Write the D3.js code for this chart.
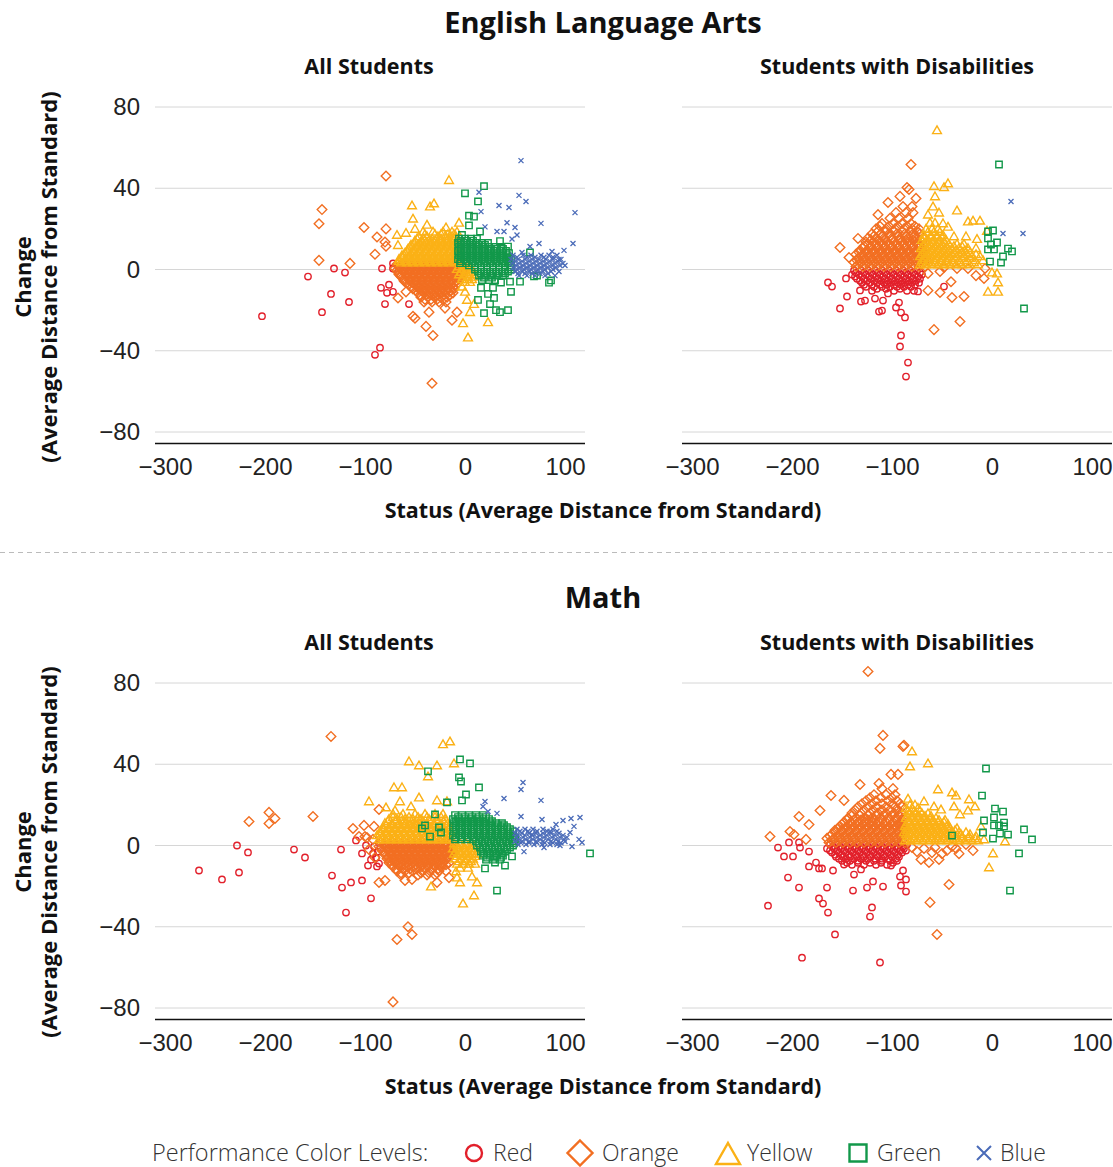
<!DOCTYPE html>
<html>
<head>
<meta charset="utf-8">
<script src="https://cdn.jsdelivr.net/npm/d3@7"></script>
<style>
  body { margin: 0; background: #fff; }
  svg { font-family: "Open Sans", Lato, sans-serif; }
</style>
</head>
<body>
<script>
// Performance levels, in drawing order
var levels = ["Red", "Orange", "Yellow", "Green", "Blue"];
var levelColors = ["#e2202b", "#f26f22", "#fbb116", "#12984a", "#4a6bb8"];

var xTicks = [-300, -200, -100, 0, 100];
var yTicks = [-80, -40, 0, 40, 80];

// ---- English Language Arts, All Students ----
// single points are [status, change]; dense clumps are rows: [change, status, status, ...]
var elaAllRed = [[-203,-23],[-157,-3.5],[-131,0.5],[-120,-1.5],[-134,-12],[-116,-16],[-143,-21],[-83,0.5],[-72,3],[-72,0.5],
  [-84,-9],[-76,-7.5],[-78,-11.5],[-72,-11],[-80,-17],[-56,-17],[-85,-38.5],[-90,-42]];
var elaAllOrange = [[-79,46],[-143,29.5],[-146,22.5],[-146,4.5],[-115,3],[-101,20.7],[-79,20],[-88,16],[-80,13.5],[-79,11.5],
  [-90,7.5],[-67,-14],[-59,-11],[-52,-23],[-50,-24],[-39,-28],[-32,-32.5],[-36,-21],[-33,-56],[-13,-25],[-8,-21],[-20,-19],
  [-45,-8.5],[-29,-13],[-66,-2.5],[-60,-6]];
var elaAllOrangeRows = [
  [2.6,-68,-62,-56,-50,-44,-38,-32,-26,-20,-14,-8,-3],
  [1.6,-66,-60,-54,-48,-42,-36,-30,-24,-18,-12,-6],
  [0.6,-70,-65,-59,-53,-47,-41,-35,-29,-23,-17,-11,-5],
  [-0.4,-68,-62,-56,-50,-44,-38,-32,-26,-20,-14,-8,-3],
  [-1.4,-67,-61,-55,-49,-43,-37,-31,-25,-19,-13,-7,-2],
  [-2.4,-64,-58,-52,-46,-40,-34,-28,-22,-16,-10,-4],
  [-3.5,-64,-58,-52,-46,-40,-34,-28,-22,-16,-10,-5],
  [-4.5,-61,-55,-49,-43,-37,-31,-25,-19,-13,-7],
  [-5.5,-61,-55,-49,-43,-37,-31,-25,-19,-13,-8],
  [-6.5,-58,-52,-46,-40,-34,-28,-22,-16,-11],
  [-7.5,-56,-50,-44,-38,-32,-26,-20,-14,-9],
  [-8.6,-53,-47,-41,-35,-29,-23,-17,-12],
  [-9.6,-52,-46,-40,-34,-28,-22,-16,-11],
  [-10.5,-49,-43,-37,-31,-25,-19,-14],
  [-11.5,-47,-41,-35,-29,-23,-17,-12],
  [-12.5,-45,-39,-33,-27,-21,-15],
  [-13.6,-44,-37,-30,-24,-18],
  [-14.8,-40,-34,-28,-22],
  [-16,-41,-33,-26,-19]];
var elaAllYellow = [[-16,44],[-53,31.5],[-35,31],[-31,32.5],[-52,25],[-38,22],[-50,20],[-68,17],[-59,18],[-6,23],[-19,20.7],
  [-63,7],[-67,12],[-3,-8.5],[2,-15],[5,-21],[-2,-26.5],[3,-33.5],[23,-26],[9,-17],[0,-11]];
var elaAllYellowRows = [
  [3.4,-64,-58,-52,-46,-40,-34,-28,-22,-16,-10,-4],
  [4.2,-66,-60,-54,-48,-42,-36,-30,-24,-18,-12,-6],
  [5.2,-66,-60,-54,-48,-42,-36,-30,-24,-18,-12,-7],
  [6.2,-63,-57,-51,-45,-39,-33,-27,-21,-15,-9,-4],
  [7.2,-61,-55,-49,-43,-37,-31,-25,-19,-13,-8],
  [8.2,-60,-54,-48,-42,-36,-30,-24,-18,-12,-6],
  [9.2,-58,-52,-46,-40,-34,-28,-22,-16,-10,-6],
  [10.2,-57,-51,-45,-39,-33,-27,-21,-15,-9,-5],
  [11.2,-55,-49,-43,-37,-31,-25,-19,-13,-8],
  [12.2,-54,-47,-41,-35,-29,-23,-17,-11,-6],
  [13.2,-51,-45,-39,-33,-27,-21,-15,-10],
  [14.2,-50,-43,-36,-30,-24,-18,-12,-7],
  [15.2,-48,-41,-33,-24,-17,-11],
  [16.3,-46,-38,-27,-20,-14,-9],
  [17.4,-40,-30,-24,-17,-11],
  [18.6,-42,-32,-22,-13,-8],
  [1.5,-6,-1,4],[0.2,-8,-3,2,7],[-1.2,-4,1,6],[-2.4,-6,-1,4,9],[-3.6,-2,3,8],[-4.8,-3,2,7],[-6.2,0,5]];
var elaAllGreen = [[19,41],[0,37.5],[13,33.5],[4,26.5],[9,26],[4,21.7],[15,18.7],[-3,17],[35,14],[43,11.3],[65,8.4],[69,-3.4],
  [72,-3],[84,-6.5],[86,-5.4],[16,-9],[28,-9],[46,-11],[13,-15],[23,-12],[29,-14],[25,-17],[31,-20],[35,-21],[43,-20],
  [19,-21.5],[36,-6.4],[55,-6],[45,-6]];
var elaAllGreenRows = [
  [15.2,-6,0,6,12],
  [14.1,-4,2,8],
  [13.1,-7,-1,5,11,17,23],
  [12.1,-4,2,8,14,20],
  [11.1,-6,0,6,12,18,24,30,36],
  [10.1,-4,2,8,14,20,26,32,38],
  [9.1,-7,-1,5,11,17,23,29,35,41],
  [8.1,-4,2,8,14,20,26,32,38,44],
  [7.1,-6,0,6,12,18,24,30,36,42],
  [6.1,-4,2,8,14,20,26,32,38,44],
  [5.1,-7,-1,5,11,17,23,29,35,41,46],
  [4.1,-4,2,8,14,20,26,32,38,44],
  [3.1,-5,1,7,13,19,25,31,37,43],
  [2,4,10,16,22,28,34,40,46],
  [1,10,16,22,28,34,40,45],
  [0,10,16,22,28,34,40,46],
  [-1,13,19,25,31,37,43],
  [-2,16,22,28,34,40],
  [-3,14,20,26,32,38],
  [-4,19,27],
  [-5.2,17,24,30]];
var elaAllBlue = [[56,53.6],[110,28],[14,38],[54,36.5],[61,33.5],[34,31.5],[44,30.5],[16,28.5],[42,23],[76,22.7],[20,21],
  [32,18.7],[39,18.7],[50,20.7],[52,17],[47,15],[65,11.3],[74,12.8],[87,8.9],[99,9.4],[108,12.8],[57,8.4],[94,4.9],[100,2]];
var elaAllBlueRows = [
  [7,48,58,66,76,84,92],
  [6,52,62,70,79,88],
  [5,46,53,60,67,74,81,88,96],
  [4,50,57,64,71,78,85,93],
  [3,47,54,61,68,75,82,90,98],
  [2,51,58,65,72,79,87,95],
  [1,48,55,62,69,76,83,91],
  [0,52,59,66,73,80,88],
  [-1,50,57,64,71,78,86,94],
  [-2,53,60,67,75,83],
  [-3,54,62,70,80,90]];

// ---- English Language Arts, Students with Disabilities ----
var elaSwdRed = [[-164,-6.4],[-160,-8.4],[-146,-4.4],[-132,-10.3],[-145,-13.3],[-131,-15.8],[-127,-15.3],[-152,-19.2],
  [-117,-14.3],[-109,-15.3],[-113,-20.7],[-110,-20.2],[-96,-18.7],[-91,-21.2],[-87,-23.6],[-91,-32.5],[-92,-37.9],
  [-84,-45.8],[-86,-52.7],[-104,-11.8],[-93,-16.3],[-48,-8.4],[-74,-10.8]];
var elaSwdRedRows = [
  [-0.5,-138,-131,-124,-117,-110,-103,-96,-89,-82,-75],
  [-1.5,-136,-128,-121,-114,-107,-100,-93,-86,-79,-72],
  [-2.5,-140,-133,-126,-119,-112,-105,-98,-91,-84,-77,-70],
  [-3.5,-137,-130,-123,-116,-109,-102,-95,-88,-81,-74],
  [-4.5,-135,-128,-121,-114,-107,-100,-93,-86,-79,-72],
  [-5.5,-132,-125,-118,-111,-104,-97,-90,-83,-76],
  [-6.5,-130,-122,-115,-108,-101,-94,-87,-80,-73],
  [-7.5,-128,-120,-112,-105,-98,-91,-84,-77],
  [-8.5,-126,-118,-110,-102,-95,-88,-81],
  [-9.5,-115,-106,-92],
  [-10.5,-120,-98,-85,-78]];
var elaSwdOrange = [[-81,51.7],[-85,40.4],[-83,39.4],[-104,33],[-92,36],[-76,35],[-114,27],[-152,10.8],[-143,5.9],[-134,15.3],
  [-64,-2],[-52,-1],[-41,-6],[-52,-11.3],[-40,-13.8],[-28,-13.3],[-32,-25.6],[-58,-29.6],[-16,-3],[-7,0.5],[-8,-4.4],
  [-64,-10.3],[-35,0.5],[-24,0.5],[-48,1]];
var elaSwdOrangeRows = [
  [1.5,-136,-129,-122,-115,-108,-101,-94,-87,-80,-73,-67],
  [2.5,-134,-127,-120,-113,-106,-99,-92,-85,-78,-71],
  [3.5,-138,-131,-124,-117,-110,-103,-96,-89,-82,-75,-68],
  [4.5,-135,-128,-121,-114,-107,-100,-93,-86,-79,-72],
  [5.5,-134,-127,-120,-113,-106,-99,-92,-85,-78,-71,-66],
  [6.5,-131,-124,-117,-110,-103,-96,-89,-82,-75,-69],
  [7.5,-136,-129,-122,-115,-108,-101,-94,-87,-80,-73,-67],
  [8.5,-133,-126,-119,-112,-105,-98,-91,-84,-77,-70],
  [9.5,-132,-125,-118,-111,-104,-97,-90,-83,-76,-69],
  [10.5,-129,-122,-115,-108,-101,-94,-87,-80,-73],
  [11.5,-128,-121,-114,-107,-100,-93,-86,-79,-72],
  [12.5,-124,-117,-110,-103,-96,-89,-82,-75],
  [13.5,-126,-119,-112,-105,-98,-91,-84,-77,-70],
  [14.5,-121,-114,-107,-100,-93,-86,-79,-72],
  [15.5,-124,-116,-108,-100,-92,-84,-76,-69],
  [16.5,-118,-110,-102,-94,-86,-78],
  [17.6,-120,-111,-103,-95,-87,-79,-72],
  [18.8,-114,-106,-98,-90,-82,-75],
  [20,-116,-106,-97,-88,-80,-73],
  [21.3,-112,-103,-94,-85,-77],
  [22.6,-110,-99,-90,-81],
  [25.2,-102,-93,-84],
  [28,-96,-86,-79],
  [31,-89,-80]];
var elaSwdYellow = [[-55,68.5],[-58,41],[-48,40.5],[-44,42.4],[-57,36],[-35,29],[-24,23.6],[-19,24],[-12,24],[-5,19],
  [-49,22.7],[-44,21],[-38,16.3],[-26,16.3],[-15,15],[0,-1.5],[5,-2],[6,-6.4],[-4,-11],[6,-11],[-59,31],[-53,28],[-64,27]];
var elaSwdYellowRows = [
  [2.5,-72,-66,-60,-54,-48,-42,-36,-30,-22,-14],
  [3.5,-69,-63,-57,-51,-45,-39,-32,-26,-18],
  [4.5,-70,-64,-58,-52,-46,-40,-33,-25,-17,-9],
  [5.5,-68,-62,-56,-50,-44,-37,-30,-22],
  [6.5,-72,-66,-60,-54,-48,-42,-35,-28,-20,-12],
  [7.5,-70,-64,-58,-52,-46,-40,-32,-25,-16],
  [8.5,-69,-63,-57,-51,-45,-38,-30,-22],
  [9.5,-67,-61,-55,-49,-43,-36,-27],
  [10.5,-71,-65,-59,-53,-47,-40,-33,-24,-16],
  [11.5,-69,-63,-57,-51,-45,-38,-30],
  [12.5,-68,-62,-56,-50,-43,-35,-28],
  [13.5,-66,-60,-54,-48],
  [14.5,-70,-64,-58,-52,-46],
  [15.8,-67,-61,-55,-50],
  [17,-68,-61,-55,-49],
  [18.5,-64,-58,-52],
  [20,-66,-60,-54],
  [23,-62,-57]];
var elaSwdGreen = [[7,51.7],[32,-19.2],[-4,18.7],[1,19.2],[-4,15.3],[-1,12.3],[5,13.3],[-4,9.9],[2,9.9],[16,10.3],[20,8.9],
  [11,6.4],[-2,3.9],[9,3.4]];
var elaSwdBlue = [[19,33.5],[11,17.7],[31,17.7]];

// ---- Math, All Students ----
var mathAllRed = [[-266,-12.3],[-243,-16.7],[-228,0],[-226,-13.3],[-217,-3.4],[-171,-2],[-160,-5.9],[-124,-2],[-133,-14.8],
  [-123,-20.7],[-114,-18.2],[-119,-33],[-103,-17.2],[-103,-3.9],[-109,2.5],[-94,-26],[-97,-9.9],[-99,0],[-88,-10.3],
  [-86,-8.9],[-91,-0.5],[-92,-4],[-89,-6],[-94,-7],[-87,-3]];
var mathAllOrange = [[-134,53.7],[-216,11.8],[-196,16.3],[-190,13.3],[-196,10.8],[-152,14.3],[-112,8.4],[-101,9.9],[-98,3.9],
  [-106,4.4],[-57,-40],[-53,-43.8],[-68,-46.3],[-72,-77],[-86,-18.2],[-80,-17.2],[-60,-17.2],[-53,-16.7],[-28,-18.2],
  [-16,-15.8],[-86,17.7],[-91,9.4],[-100,4.4],[-92,3],[-96,-2],[-90,-6]];
var mathAllOrangeRows = [
  [1.5,-84,-78,-72,-66,-60,-54,-48,-42,-36,-30,-24,-18,-13],
  [0.5,-81,-75,-69,-63,-57,-51,-45,-39,-33,-27,-21,-16],
  [-0.5,-86,-80,-74,-68,-62,-56,-50,-44,-38,-32,-26,-20,-14],
  [-1.5,-84,-77,-71,-65,-59,-53,-47,-41,-35,-29,-23,-17,-12],
  [-2.5,-83,-77,-71,-65,-59,-53,-47,-41,-35,-29,-23,-17,-12],
  [-3.5,-80,-74,-68,-62,-56,-50,-44,-38,-32,-26,-20,-15],
  [-4.5,-80,-74,-68,-62,-56,-50,-44,-38,-32,-26,-20,-14],
  [-5.5,-77,-71,-65,-59,-53,-47,-41,-35,-29,-23,-17],
  [-6.5,-78,-72,-66,-60,-54,-48,-42,-36,-30,-24,-18],
  [-7.5,-75,-69,-63,-57,-51,-45,-39,-33,-27,-21],
  [-8.5,-76,-70,-64,-58,-52,-46,-40,-34,-28,-22,-16],
  [-9.5,-73,-67,-61,-55,-49,-43,-37,-31,-25,-19],
  [-10.5,-72,-65,-58,-51,-44,-37,-30,-23],
  [-11.5,-69,-62,-55,-48,-40,-33,-27],
  [-12.5,-68,-60,-52,-43,-35,-26,-19],
  [-13.5,-64,-56,-44,-36,-28],
  [-14.5,-64,-47,-38,-30]];
var mathAllYellow = [[-22,49.8],[-15,51.2],[-56,41.4],[-46,39.4],[-28,39.4],[-11,40.4],[-37,34],[-71,28.6],[-63,28.6],
  [-96,21.7],[-65,21.7],[-46,23.6],[-28,22.2],[-18,21.7],[-79,18.7],[-70,17.2],[-54,19.2],[7,-15.3],[12,-18.2],[-5,-18.2],
  [-8,-15.8],[9,-24.6],[-2,-28.6],[-34,-20.2],[-9,-12.8]];
var mathAllYellowRows = [
  [3,-86,-80,-74,-68,-62,-56,-50,-44,-38,-32,-26,-20,-15],
  [4,-83,-77,-71,-65,-59,-53,-47,-41,-35,-29,-23,-17],
  [5,-88,-82,-76,-70,-64,-58,-52,-46,-40,-34,-28,-22,-16],
  [6,-85,-79,-73,-67,-61,-55,-49,-43,-37,-31,-25,-19,-14],
  [7,-85,-79,-73,-67,-61,-55,-49,-43,-37,-31,-25,-19,-14],
  [8,-82,-76,-70,-64,-58,-52,-46,-40,-34,-28,-22,-16],
  [9,-82,-76,-70,-64,-58,-52,-46,-40,-34,-28,-22,-16],
  [10,-79,-73,-67,-61,-55,-49,-43,-37,-31,-25,-19],
  [11,-80,-73,-66,-59,-52,-45,-38,-31,-24,-17],
  [12,-77,-70,-63,-56,-49,-42,-35,-28,-21],
  [13,-76,-68,-60,-52,-44,-36,-28,-20],
  [14,-72,-64,-56,-47,-38,-30,-24],
  [15.5,-72,-62,-50,-40,-30,-22],
  [1,-11,-5,1,7],[0,-8,-2,4,9],
  [-1.5,-12,-6,0,6,11],[-2.8,-9,-3,3,9],
  [-4,-11,-5,1,7,12],[-5.2,-8,-2,4,10],
  [-6.5,-10,-4,2,8],[-7.8,-6,0,6],
  [-9,-8,-2,4,10],
  [-11,-5,3]];
var mathAllGreen = [[-5,42.4],[5,40.4],[-37,36.5],[-6,33.5],[-4,31.5],[14,28.6],[1,25.1],[-3,22.2],[-18,21.2],[-30,15.3],
  [-40,9.9],[-43,8.4],[-26,8.9],[-24,6.4],[-35,4.4],[20,-11.3],[32,-22.2],[125,-3.9],[40,-9.9],[30,-8.4],[47,-5.4]];
var mathAllGreenRows = [
  [15,-10,-3,4,11,18],
  [14,-7,0,7,14,21],
  [13,-12,-6,0,6,12,18,24],
  [12,-9,-3,3,9,15,21,27],
  [11,-11,-5,1,7,13,19,25,31,37],
  [10,-9,-3,3,9,15,21,27,33,39],
  [9,-12,-6,0,6,12,18,24,30,36,42],
  [8,-9,-3,3,9,15,21,27,33,39,45],
  [7,-11,-5,1,7,13,19,25,31,37,43,48],
  [6,-9,-3,3,9,15,21,27,33,39,45],
  [5,-12,-6,0,6,12,18,24,30,36,42,48],
  [4,-9,-3,3,9,15,21,27,33,39,45,50],
  [3,-10,-4,2,8,14,20,26,32,38,44,50],
  [2,11,17,23,29,35,41,47],
  [1,14,20,26,32,38,44,49],
  [0,12,18,24,30,36,42,48],
  [-1,15,21,27,33,39,45],
  [-2,18,24,30,36,42],
  [-3,16,22,28,34,40],
  [-4,19,25,31,37],
  [-5,18,25,32,38],
  [-6,22,30,36],
  [-7,21,28,35]];
var mathAllBlue = [[58,31],[56,27.6],[76,22.2],[39,23.1],[20,21.7],[18,19.2],[23,16.7],[32,15.8],[56,14.3],[77,12.8],
  [91,10.3],[98,12.3],[106,13.3],[115,13.8],[109,9.4],[85,6.9],[105,6.4],[114,3],[117,1.5],[59,-3],[79,-1],[95,0],
  [107,-0.5],[67,5.4]];
var mathAllBlueRows = [
  [8,52,60,68,78,88],
  [7,55,63,72,82,92],
  [6,50,57,64,71,78,86,94],
  [5,53,60,67,75,82,90,98],
  [4,51,58,65,72,79,87,95,102],
  [3,54,61,68,75,83,91,99],
  [2,50,57,64,71,78,86,93,100],
  [1.3,56,64,72,80,88,96],
  [0.5,53,61,69,77,85,92]];

// ---- Math, Students with Disabilities ----
var mathSwdRed = [[-224,-29.6],[-214,-1],[-208,-5.4],[-203,1.5],[-199,-5.4],[-193,1.5],[-192,-1],[-183,-3],[-204,-15.8],
  [-193,-20.7],[-183,-10.3],[-176,-8.4],[-173,-11.3],[-170,-11.3],[-173,-26.1],[-169,-28.6],[-164,-33],[-165,-20.7],
  [-157,-43.8],[-190,-55.2],[-112,-57.6],[-120,-30.5],[-122,-35],[-139,-22.2],[-125,-20.7],[-119,-17.7],[-109,-20.2],
  [-91,-19.7],[-86,-22.7],[-92,-15.3],[-86,-16.7],[-101,-9.9],[-89,-12.3],[-159,-12.3],[-138,-14.3],[-131,-11.8],[-148,-9.4]];
var mathSwdRedRows = [
  [0.5,-162,-155,-148,-141,-134,-127,-120,-113,-106,-99,-92,-85],
  [-0.5,-159,-152,-145,-138,-131,-124,-117,-110,-103,-96,-89],
  [-1.5,-165,-158,-151,-144,-137,-130,-123,-116,-109,-102,-95,-88],
  [-2.5,-162,-155,-148,-141,-134,-127,-120,-113,-106,-99,-92,-86],
  [-3.5,-160,-153,-146,-139,-132,-125,-118,-111,-104,-97,-90],
  [-4.5,-157,-150,-143,-136,-129,-122,-115,-108,-101,-94],
  [-5.5,-156,-149,-142,-135,-128,-121,-114,-107,-100,-93],
  [-6.5,-153,-146,-138,-131,-124,-117,-110,-103,-96],
  [-7.5,-150,-142,-134,-126,-118,-110,-102,-95],
  [-8.5,-145,-134,-122,-111,-99],
  [-9.5,-140,-128,-116,-105]];
var mathSwdOrange = [[-124,85.7],[-109,54.2],[-112,47.8],[-89,48.8],[-88,49.3],[-62,-28],[-55,-43.8],[-43,-19.2],[-222,4.4],
  [-193,14.3],[-202,6.9],[-198,5.4],[-172,17.2],[-183,10.3],[-186,3],[-161,24.6],[-148,22.2],[-132,30],[-113,30.5],
  [-101,35],[-94,35],[-19,-2.5],[-53,-6.9],[-63,-8.4],[-71,-6.9],[-45,-2.5],[-36,-1.5],[-26,0.5],[-80,-1],[-75,-3],
  [-68,-1.5],[-60,-3.5],[-57,-1],[-50,-4],[-40,-0.5],[-33,-4]];
var mathSwdOrangeRows = [
  [1.5,-163,-156,-149,-142,-135,-128,-121,-114,-107,-100,-93,-87],
  [2.5,-160,-153,-146,-139,-132,-125,-118,-111,-104,-97,-90],
  [3.5,-165,-158,-151,-144,-137,-130,-123,-116,-109,-102,-95,-88],
  [4.5,-162,-155,-148,-141,-134,-127,-120,-113,-106,-99,-92],
  [5.5,-160,-153,-146,-139,-132,-125,-118,-111,-104,-97,-90],
  [6.5,-157,-150,-143,-136,-129,-122,-115,-108,-101,-94,-88],
  [7.5,-157,-150,-143,-136,-129,-122,-115,-108,-101,-94,-88],
  [8.5,-154,-147,-140,-133,-126,-119,-112,-105,-98,-91],
  [9.5,-152,-145,-138,-131,-124,-117,-110,-103,-96,-89],
  [10.5,-150,-143,-136,-129,-122,-115,-108,-101,-94,-88],
  [11.5,-148,-141,-134,-127,-120,-113,-106,-99,-92],
  [12.5,-145,-138,-131,-124,-117,-110,-103,-96,-90],
  [13.5,-144,-136,-128,-120,-112,-104,-96,-89],
  [14.8,-140,-132,-124,-116,-108,-100,-93],
  [16,-140,-131,-122,-114,-106,-98,-91],
  [17.5,-137,-128,-119,-110,-102,-94],
  [19,-134,-124,-115,-106,-97,-90],
  [20.5,-130,-120,-110,-100,-92],
  [22,-126,-116,-104,-95],
  [23.5,-122,-111,-100],
  [25,-118,-106,-97],
  [28,-110,-99]];
var mathSwdYellow = [[-80,46.3],[-82,38.9],[-64,40.4],[-54,27.6],[-40,26.1],[-36,24.6],[-23,22.7],[-17,19.2],[-24,17.2],
  [1,-3.9],[-3,-10.8],[13,2],[-8,3],[-11,9.4],[-38,19.2],[-32,15.3],[-68,21.7],[-58,19.2],[-51,17.7]];
var mathSwdYellowRows = [
  [2.5,-87,-81,-75,-69,-63,-57,-51,-45,-39,-33,-27,-20,-14],
  [3.5,-84,-78,-72,-66,-60,-54,-48,-42,-36,-30,-24,-17],
  [4.5,-85,-79,-73,-67,-61,-55,-49,-43,-37,-30,-23,-16],
  [5.5,-86,-80,-74,-68,-62,-56,-50,-44,-38,-31,-22],
  [6.5,-88,-82,-76,-70,-64,-58,-52,-46,-40,-33,-26],
  [7.5,-85,-79,-73,-67,-61,-55,-49,-43,-37],
  [8.5,-84,-78,-72,-66,-60,-54,-48,-42,-35],
  [9.5,-87,-81,-75,-69,-63,-57,-51,-45],
  [10.5,-86,-80,-74,-68,-62,-56,-50,-44],
  [11.5,-84,-78,-72,-66,-60,-54,-48],
  [12.5,-83,-77,-71,-65,-59,-53,-47],
  [13.5,-86,-80,-74,-68,-62,-56],
  [14.5,-85,-79,-73,-67,-61],
  [15.8,-82,-76,-70,-64],
  [17,-84,-78,-72],
  [18.5,-86,-80,-74],
  [20,-82,-77],
  [23,-84]];
var mathSwdGreen = [[-6,37.9],[-10,24.6],[3,18.2],[11,16.7],[-8,12.3],[2,13.8],[12,11.3],[2,9.9],[7,9.9],[12,9.4],[-9,6.4],
  [8,5.9],[16,5.4],[32,7.9],[40,3],[1,3.4],[-40,4.9],[27,-3.9],[18,-22.2]];

// turn [change, status, status, ...] rows into [status, change] points
function expandRows(rows) {
  var out = [];
  rows.forEach(function(r) {
    r.slice(1).forEach(function(s) { out.push([s, r[0]]); });
  });
  return out;
}

var panels = [
  { left: 155, top: 107, showY: true, series: [
      elaAllRed, elaAllOrange.concat(expandRows(elaAllOrangeRows)), elaAllYellow.concat(expandRows(elaAllYellowRows)),
      elaAllGreen.concat(expandRows(elaAllGreenRows)), elaAllBlue.concat(expandRows(elaAllBlueRows))] },
  { left: 682, top: 107, showY: false, series: [
      elaSwdRed.concat(expandRows(elaSwdRedRows)), elaSwdOrange.concat(expandRows(elaSwdOrangeRows)),
      elaSwdYellow.concat(expandRows(elaSwdYellowRows)), elaSwdGreen, elaSwdBlue] },
  { left: 155, top: 683, showY: true, series: [
      mathAllRed, mathAllOrange.concat(expandRows(mathAllOrangeRows)), mathAllYellow.concat(expandRows(mathAllYellowRows)),
      mathAllGreen.concat(expandRows(mathAllGreenRows)), mathAllBlue.concat(expandRows(mathAllBlueRows))] },
  { left: 682, top: 683, showY: false, series: [
      mathSwdRed.concat(expandRows(mathSwdRedRows)), mathSwdOrange.concat(expandRows(mathSwdOrangeRows)),
      mathSwdYellow.concat(expandRows(mathSwdYellowRows)), mathSwdGreen, []] }
];

// marker shapes (size = half width in px)
var shapeCircle = { draw: function(c, s) { c.moveTo(s, 0); c.arc(0, 0, s, 0, 2 * Math.PI); } };
var shapeDiamond = { draw: function(c, s) { c.moveTo(0, -s); c.lineTo(s, 0); c.lineTo(0, s); c.lineTo(-s, 0); c.closePath(); } };
var shapeTriangle = { draw: function(c, s) { c.moveTo(0, -s); c.lineTo(s, s * 0.75); c.lineTo(-s, s * 0.75); c.closePath(); } };
var shapeSquare = { draw: function(c, s) { c.rect(-s, -s, 2 * s, 2 * s); } };
var shapeCross = { draw: function(c, s) { c.moveTo(-s, -s); c.lineTo(s, s); c.moveTo(s, -s); c.lineTo(-s, s); } };
var shapes = [shapeCircle, shapeDiamond, shapeTriangle, shapeSquare, shapeCross];
var markSize = [3.2, 4.8, 4.4, 3.2, 2.5];
var legendSize = [8, 12.5, 12, 8.5, 7];

var svg = d3.select("body").append("svg")
  .attr("width", 1113)
  .attr("height", 1167);

function drawPanel(p) {
  var x = d3.scaleLinear().domain([-310, 122]).range([p.left, p.left + 432]);
  var y = d3.scaleLinear().domain([-80, 80]).range([p.top + 325, p.top]);
  var g = svg.append("g");

  // gridlines
  g.selectAll(".grid").data(yTicks).enter().append("line")
    .attr("x1", p.left).attr("x2", p.left + 430)
    .attr("y1", d => y(d)).attr("y2", d => y(d))
    .attr("stroke", "#d6d6d6").attr("stroke-width", 1);

  if (p.showY) {
    var leftAxis = d3.axisLeft(y).tickValues(yTicks).tickSize(0).tickPadding(15);
    var ya = g.append("g").attr("transform", `translate(${p.left},0)`).call(leftAxis);
    ya.select(".domain").remove();
    ya.selectAll("text").attr("font-size", 24).attr("font-weight", 300).attr("fill", "#222").attr("font-family", "inherit");
  }

  var bottomAxis = d3.axisBottom(x).tickValues(xTicks).tickSize(0).tickSizeOuter(0).tickPadding(15);
  var xa = g.append("g").attr("transform", `translate(0,${p.top + 336})`).call(bottomAxis);
  xa.select(".domain").attr("d", `M${p.left},0.5H${p.left + 430}`).attr("stroke", "#111").attr("stroke-width", 1.5);
  xa.selectAll("text").attr("font-size", 24).attr("font-weight", 300).attr("fill", "#222").attr("font-family", "inherit");

  p.series.forEach(function(pts, i) {
    g.append("g").selectAll("path").data(pts).enter().append("path")
      .attr("transform", d => `translate(${x(d[0])},${y(d[1])})`)
      .attr("d", d3.symbol().type(shapes[i]).size(markSize[i]))
      .attr("fill", "none")
      .attr("stroke", levelColors[i])
      .attr("stroke-width", i === 4 ? 1.3 : 1.4);
  });
}

panels.forEach(drawPanel);

// titles
function label(txt, x, y, size, weight) {
  return svg.append("text").attr("x", x).attr("y", y).attr("text-anchor", "middle")
    .attr("font-size", size).attr("font-weight", weight).attr("fill", "#111").text(txt);
}
label("English Language Arts", 603, 33, 29, 700);
label("All Students", 369, 74, 21.5, 700);
label("Students with Disabilities", 897, 74, 21.5, 700);
label("Status (Average Distance from Standard)", 603, 518, 21.5, 700);
label("Math", 603, 608, 29, 700);
label("All Students", 369, 650, 21.5, 700);
label("Students with Disabilities", 897, 650, 21.5, 700);
label("Status (Average Distance from Standard)", 603, 1094, 21.5, 700);

[277, 852].forEach(function(cy) {
  label("Change", 0, 0, 22, 700).attr("transform", `translate(31,${cy}) rotate(-90)`);
  label("(Average Distance from Standard)", 0, 0, 22, 700).attr("transform", `translate(57,${cy}) rotate(-90)`);
});

// dashed separator
svg.append("line").attr("x1", 0).attr("x2", 1113).attr("y1", 552.5).attr("y2", 552.5)
  .attr("stroke", "#bbb").attr("stroke-width", 1).attr("stroke-dasharray", "5,4");

// legend
svg.append("text").attr("x", 152).attr("y", 1161).attr("font-size", 23.5).attr("font-weight", 300).attr("fill", "#333")
  .text("Performance Color Levels:");
var legendX = [474, 580, 728, 858, 984];
levels.forEach(function(lv, i) {
  svg.append("path")
    .attr("transform", `translate(${legendX[i]},${i === 2 ? 1155 : 1153})`)
    .attr("d", d3.symbol().type(shapes[i]).size(legendSize[i]))
    .attr("fill", "none").attr("stroke", levelColors[i]).attr("stroke-width", i === 4 ? 2 : 2.4);
  svg.append("text").attr("x", legendX[i] + (i === 1 ? 22 : (i === 4 ? 16 : 19))).attr("y", 1161)
    .attr("font-size", 23).attr("font-weight", 300).attr("fill", "#333").text(lv);
});
</script>
</body>
</html>
